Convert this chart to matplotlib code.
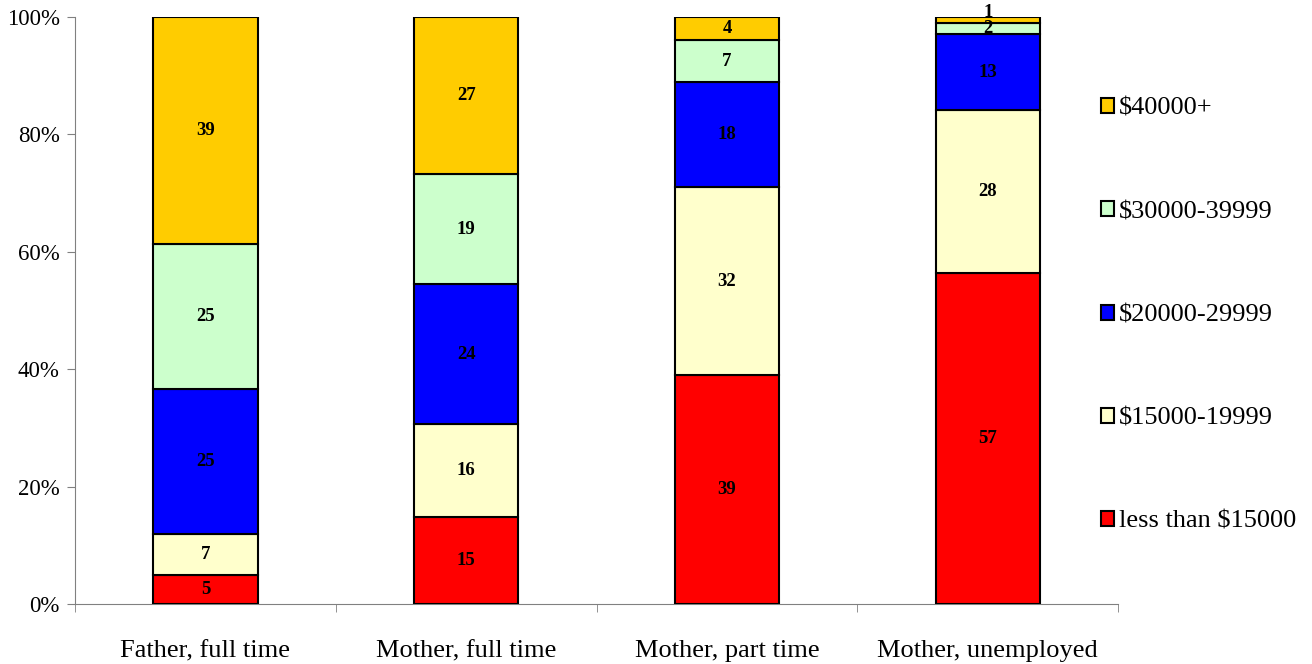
import numpy as np
import matplotlib.pyplot as plt
from matplotlib.patches import Patch

plt.rcParams['font.family'] = ['Liberation Serif', 'DejaVu Serif']

# Data
groups = ["Father, full time", "Mother, full time", "Mother, part time", "Mother, unemployed"]
income_levels = ["less than $15000", "$15000-19999", "$20000-29999", "$30000-39999", "$40000+"]
less_15000 = [5, 15, 39, 57]
from_15000 = [7, 16, 32, 28]
from_20000 = [25, 24, 18, 13]
from_30000 = [25, 19, 7, 2]
over_40000 = [39, 27, 4, 1]
colors = ["#FF0000", "#FFFFCC", "#0000FF", "#CCFFCC", "#FFCC00"]

series = np.array([less_15000, from_15000, from_20000, from_30000, over_40000], dtype=float)
share = series / series.sum(axis=0) * 100

fig = plt.figure(figsize=(13.12, 6.64), dpi=100)
ax = fig.add_axes([0.0572, 0.0904, 0.795, 0.884])

x = np.arange(len(groups))
bottom = np.zeros(len(groups))
for i in range(len(income_levels)):
    ax.bar(x, share[i], bottom=bottom, width=0.4, color=colors[i],
           edgecolor="black", linewidth=1.5, zorder=3)
    for j in range(len(groups)):
        y = bottom[j] + share[i][j] / 2
        # tiny top segment: label sits a little above, as in the original
        if share[i][j] < 1.5:
            y += 1.2
        ax.text(x[j], y, f"{int(series[i][j])}",
                ha="center", va="center", fontsize=13.5, fontweight="bold", zorder=4)
    bottom += share[i]

ax.set_xlim(-0.5, len(groups) - 0.5)
ax.set_ylim(0, 100)
ax.set_yticks(np.arange(0, 101, 20))
ax.set_yticklabels([f"{v}%" for v in range(0, 101, 20)], fontsize=16.5)
ax.set_xticks(x)
ax.set_xticklabels(groups, fontsize=19)
ax.tick_params(axis="x", length=0, pad=26)
ax.set_xticks(np.arange(-0.5, len(groups)), minor=True)
ax.tick_params(axis="x", which="minor", length=6, color="#808080")
ax.tick_params(axis="y", length=6, color="#808080", pad=5)

for side in ["top", "right"]:
    ax.spines[side].set_visible(False)
ax.spines["left"].set_color("#808080")
ax.spines["bottom"].set_color("#808080")

handles = [Patch(facecolor=colors[i], edgecolor="black", linewidth=1.5) for i in range(5)][::-1]
ax.legend(handles, income_levels[::-1], loc="center left", bbox_to_anchor=(0.829, 0.525),
          bbox_transform=fig.transFigure, frameon=False, fontsize=19,
          labelspacing=3.08, handlelength=0.5, handleheight=0.5, handletextpad=0.2,
          borderpad=0)

fig.savefig("out.png", dpi=100)
